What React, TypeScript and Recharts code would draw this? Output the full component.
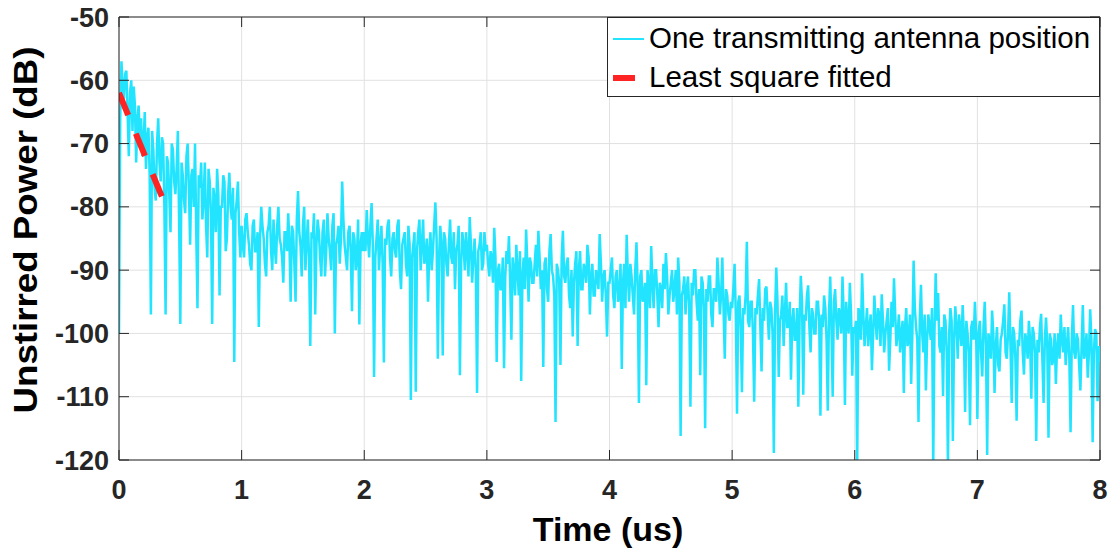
import React from 'react';
import { LineChart, Line, XAxis, YAxis, CartesianGrid, ReferenceLine } from 'recharts';

const TIME_STEP = 0.01;

const power0to1 = [
  -100, -66, -57, -61, -63, -59, -58.5, -65, -72, -62,
  -60, -68, -61, -64, -73, -66, -64, -69, -66, -72,
  -70, -65, -74, -69, -67.5, -75, -97, -68, -71, -77,
  -79, -70, -66, -73, -76, -69, -70, -80, -97, -72,
  -73, -78, -84, -70, -71, -76, -78, -74, -68, -82,
  -98.5, -73, -75, -79, -81, -72, -70, -77, -86, -75,
  -74, -80, -70, -84, -96, -75, -77, -73, -82, -79,
  -73, -83, -88, -74, -76, -81, -98.5, -77, -79, -84,
  -74, -78, -94, -80, -80, -75, -76, -87, -85, -78,
  -74.6, -80, -82, -77, -104.5, -81, -79, -76, -84, -88,
];
const power1to2 = [
  -83, -86, -88, -82, -81, -84, -86, -89, -90, -83,
  -82, -87, -87, -84, -99, -85, -80, -83, -85, -89,
  -91, -84, -83, -80, -87, -90, -82, -86, -89, -83,
  -80, -85, -86, -88, -92, -84, -84, -87, -81, -86,
  -95, -83, -84, -89, -95, -82, -77.5, -84, -86, -91,
  -83, -80, -90, -86, -82, -88, -102, -84, -85, -81,
  -97, -86, -82, -84, -88, -91, -84, -82, -91, -87,
  -81, -85, -87, -90, -83, -81, -100, -86, -85, -83,
  -89, -85, -76, -82, -86, -88, -90, -84, -83, -87,
  -96.5, -84, -85, -90, -88, -82, -98.6, -86, -84, -87,
];
const power2to3 = [
  -84, -87, -80.5, -85, -88, -83, -79.4, -86, -106.9, -88,
  -85, -82, -90, -86, -83, -89, -104.6, -85, -86, -83,
  -82, -88, -91, -85, -84, -87, -88, -83, -82, -90,
  -93, -86, -85, -84, -89, -91, -83, -86, -110.5, -88,
  -86, -84, -109.2, -87, -84, -82, -90, -86, -82, -89,
  -88, -85, -95, -87, -84, -90, -87, -83, -79.3, -85,
  -104, -88, -83, -86, -103.5, -84, -85, -89, -91, -86,
  -82, -88, -89, -84, -93, -87, -86, -83, -106.6, -89,
  -84, -86, -90, -84, -87, -91, -81.6, -86, -92, -88,
  -85, -90, -109.4, -87, -86, -84, -90, -89, -84, -87,
];
const power3to4 = [
  -86, -89, -91, -87, -88, -92, -83.3, -88, -104.5, -90,
  -89, -93, -93, -88, -105.5, -91, -87, -89, -84.6, -92,
  -101, -88, -90, -94, -86, -90, -94, -87, -107.5, -91,
  -88, -93, -83.6, -89, -95, -88, -89, -92, -92, -89,
  -86, -91, -83.8, -88, -93, -90, -105.3, -89, -88, -93,
  -95, -87, -84.3, -90, -91, -94, -114, -89, -90, -92,
  -105, -88, -83.8, -91, -92, -89, -88, -94, -96, -90,
  -100.5, -92, -89, -87, -102, -90, -87, -93, -93, -89,
  -90, -92, -86, -88, -97, -91, -89, -94, -94, -90,
  -91, -93, -84.3, -89, -95, -91, -90, -94, -100.5, -92,
];
const power4to5 = [
  -92, -90, -88, -94, -96, -91, -90, -95, -94, -89,
  -105.6, -92, -89, -96, -84.4, -91, -95, -89, -91, -94,
  -97, -90, -85.6, -93, -111, -91, -90, -95, -94, -92,
  -108.2, -90, -92, -96, -86.2, -92, -96, -90, -90, -94,
  -99, -92, -93, -96, -89, -93, -87.3, -91, -97, -94,
  -92, -90, -95, -93, -90, -97, -88, -92, -116.2, -94,
  -93, -91, -97, -93, -91, -96, -111.6, -92, -94, -90,
  -90, -95, -98, -93, -106.6, -91, -92, -96, -115, -93,
  -95, -91, -91, -97, -99, -93, -93, -95, -88, -92,
  -97, -94, -88, -96, -104, -93, -94, -97, -98, -95,
];
const power5to6 = [
  -96, -93, -89, -97, -112.7, -95, -94, -99, -109.3, -96,
  -97, -94, -85.5, -98, -99, -95, -95, -100, -110.8, -96,
  -97, -94, -91.4, -99, -106, -96, -98, -93, -92.6, -97,
  -101, -95, -96, -100, -118.9, -97, -89.6, -95, -106.9, -98,
  -97, -94, -102, -97, -92, -99, -99, -95, -107.3, -98,
  -96, -101, -101, -96, -111.6, -98, -90.9, -95, -109.7, -97,
  -98, -94, -92.4, -99, -103, -96, -97, -100, -100, -95,
  -95, -98, -113, -97, -99, -94, -96, -101, -112.2, -97,
  -91, -99, -110, -95, -93, -98, -101, -96, -97, -100,
  -91, -97, -111.3, -95, -98, -100, -92, -97, -106.7, -99,
];
const power6to7 = [
  -100, -98, -121, -96, -97, -101, -90.5, -97, -102, -99,
  -96, -102, -99, -97, -105.8, -100, -94, -98, -101, -96,
  -97, -102, -93.8, -98, -103, -100, -98, -96, -105.9, -101,
  -95, -99, -91.3, -97, -102, -100, -97, -103, -100, -98,
  -109.4, -99, -96, -102, -101, -97, -108, -100, -88.5, -96,
  -99, -101, -114, -98, -92.3, -100, -103, -97, -109, -101,
  -97, -99, -101, -96, -121, -100, -90.5, -98, -93.6, -102,
  -103, -99, -109.9, -97, -98, -103, -121, -100, -96, -98,
  -117, -101, -95.7, -99, -104, -97, -99, -102, -95.5, -100,
  -112.4, -98, -100, -103, -114.5, -99, -98, -101, -95, -100,
];
const power7to8 = [
  -113.5, -100, -98, -103, -106.8, -99, -95, -102, -119.2, -100,
  -101, -104, -96.4, -100, -109.4, -102, -99, -105, -106, -101,
  -100, -98, -95.4, -103, -104, -100, -93.5, -102, -111, -99,
  -100, -104, -113.8, -101, -102, -98, -96.4, -103, -106.5, -100,
  -101, -104, -98, -101, -110.3, -99, -100, -103, -117, -101,
  -103, -99, -96.9, -104, -111, -101, -97.5, -102, -116.5, -100,
  -101, -105, -104, -100, -108, -102, -100, -104, -97, -101,
  -103, -99, -105, -102, -99, -104, -115.6, -101, -95.5, -103,
  -104, -100, -101, -105, -109, -102, -95.5, -104, -103, -100,
  -107, -103, -96.2, -101, -117.2, -103, -99.3, -100, -110.7, -102,
  -104.5,
];

const fitTime = [0, 0.35];
const fitPower = [-62, -78.4];

const xTicks = [0, 1, 2, 3, 4, 5, 6, 7, 8];
const yTicks = [-120, -110, -100, -90, -80, -70, -60, -50];

const allPower = [
  ...power0to1, ...power1to2, ...power2to3, ...power3to4,
  ...power4to5, ...power5to6, ...power6to7, ...power7to8,
];
const measured = allPower.map((p, i) => ({ t: +(i * TIME_STEP).toFixed(2), p }));
const fitted = fitTime.map((t, i) => ({ t, fit: fitPower[i] }));

const W = 1117;
const H = 553;
const PLOT_LEFT = 119;
const PLOT_RIGHT = 1100;
const PLOT_TOP = 17;
const PLOT_BOTTOM = 460;
const TICK_LEN = 10;
const AXIS_COLOR = '#262626';
const FONT = '"Liberation Sans", Arial, Helvetica, sans-serif';
const CYAN = '#22E4FF';
const RED = '#FF2424';

const renderYTick = (props: any) => {
  const { y, payload } = props;
  return (
    <g>
      <line x1={PLOT_LEFT} x2={PLOT_LEFT + TICK_LEN} y1={y} y2={y} stroke={AXIS_COLOR} />
      <line x1={PLOT_RIGHT - TICK_LEN} x2={PLOT_RIGHT} y1={y} y2={y} stroke={AXIS_COLOR} />
      <text x={PLOT_LEFT - 10} y={y} dy={9.5} textAnchor="end" fontSize={27} fontWeight="bold" fill={AXIS_COLOR} fontFamily={FONT}>
        {payload.value}
      </text>
    </g>
  );
};

const renderXTick = (props: any) => {
  const { x, payload } = props;
  return (
    <g>
      <line x1={x} x2={x} y1={PLOT_BOTTOM} y2={PLOT_BOTTOM - TICK_LEN} stroke={AXIS_COLOR} />
      <line x1={x} x2={x} y1={PLOT_TOP} y2={PLOT_TOP + TICK_LEN} stroke={AXIS_COLOR} />
      <text x={x} y={PLOT_BOTTOM + 39} textAnchor="middle" fontSize={27} fontWeight="bold" fill={AXIS_COLOR} fontFamily={FONT}>
        {payload.value}
      </text>
    </g>
  );
};

function LegendBox() {
  return (
    <div
      style={{
        position: 'absolute',
        left: 607,
        top: PLOT_TOP,
        width: PLOT_RIGHT - 607 - 2,
        height: 78,
        border: `1px solid ${AXIS_COLOR}`,
        background: '#fff',
        fontFamily: FONT,
        fontSize: 29.5,
        color: '#000',
      }}
    >
      <svg width={40} height={78} style={{ position: 'absolute', left: 0, top: 0 }}>
        <line x1={5} x2={36} y1={21} y2={21} stroke={CYAN} strokeWidth={2} />
        <line x1={5} x2={27} y1={60} y2={60} stroke={RED} strokeWidth={6} />
      </svg>
      <div style={{ position: 'absolute', left: 41, top: 3, lineHeight: '34px', whiteSpace: 'nowrap' }}>
        One transmitting antenna position
      </div>
      <div style={{ position: 'absolute', left: 41, top: 42, lineHeight: '34px', whiteSpace: 'nowrap' }}>
        Least square fitted
      </div>
    </div>
  );
}

export default function App() {
  return (
    <div style={{ position: 'absolute', left: 0, top: 0, width: W, height: H, background: '#fff' }}>
      <LineChart width={W} height={H} margin={{ top: PLOT_TOP, right: W - PLOT_RIGHT, left: 0, bottom: 0 }}>
        <CartesianGrid stroke="#e1e1e1" strokeWidth={1} />
        <XAxis
          type="number"
          dataKey="t"
          domain={[0, 8]}
          ticks={xTicks}
          height={H - PLOT_BOTTOM}
          axisLine={{ stroke: AXIS_COLOR }}
          tickLine={false}
          tick={renderXTick}
          allowDataOverflow
        />
        <YAxis
          type="number"
          domain={[-120, -50]}
          ticks={yTicks}
          width={PLOT_LEFT}
          axisLine={{ stroke: AXIS_COLOR }}
          tickLine={false}
          tick={renderYTick}
          allowDataOverflow
        />
        <ReferenceLine y={-50} stroke={AXIS_COLOR} />
        <ReferenceLine x={8} stroke={AXIS_COLOR} />
        <Line
          data={measured}
          dataKey="p"
          type="linear"
          stroke={CYAN}
          strokeWidth={2.5}
          dot={false}
          activeDot={false}
          isAnimationActive={false}
        />
        <Line
          data={fitted}
          dataKey="fit"
          type="linear"
          stroke={RED}
          strokeWidth={6}
          strokeDasharray="24 20"
          dot={false}
          activeDot={false}
          isAnimationActive={false}
        />
      </LineChart>
      <div
        style={{
          position: 'absolute',
          left: 0,
          top: 0,
          width: W,
          height: H,
          pointerEvents: 'none',
        }}
      >
        <svg width={W} height={H}>
          <text
            x={37}
            y={230}
            transform="rotate(-90 37 230)"
            textAnchor="middle"
            fontSize={34}
            fontWeight="bold"
            fill="#000"
            fontFamily={FONT}
            textLength={367}
            lengthAdjust="spacingAndGlyphs"
          >
            Unstirred Power (dB)
          </text>
          <text
            x={608}
            y={541}
            textAnchor="middle"
            fontSize={34}
            fontWeight="bold"
            fill="#000"
            fontFamily={FONT}
          >
            Time (us)
          </text>
        </svg>
      </div>
      <LegendBox />
    </div>
  );
}
